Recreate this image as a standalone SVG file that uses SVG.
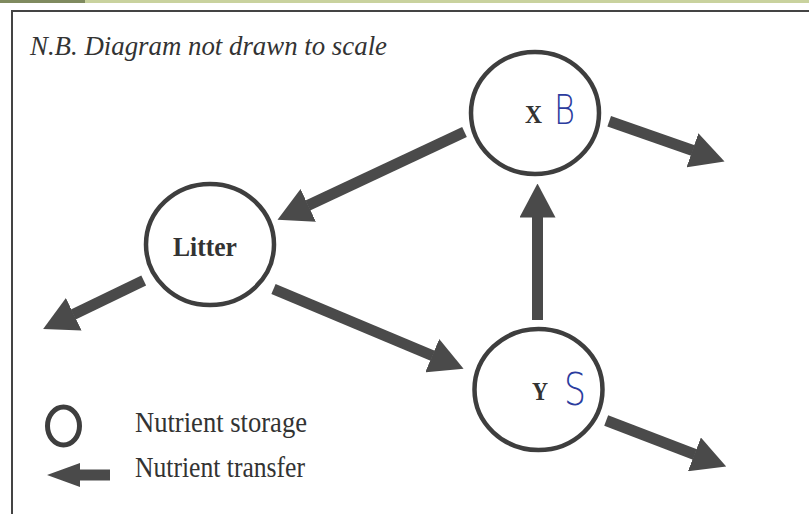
<svg xmlns="http://www.w3.org/2000/svg" width="809" height="514" viewBox="0 0 809 514">
  <style>
    .node { fill: none; stroke: #3e3e3e; stroke-width: 4.5; }
    .conn { fill: none; stroke: #4a4a4a; stroke-width: 11; marker-end: url(#head); }
    .lbl { font-family: "Liberation Serif", "Times New Roman", serif; fill: #333; font-weight: bold; }
    .legend { font-family: "Liberation Serif", "Times New Roman", serif; fill: #333; font-size: 29px; }
    .hand { font-family: "DejaVu Sans", "Liberation Sans", sans-serif; font-weight: 200; fill: #2b3c9e; }
  </style>
  <defs>
    <marker id="head" markerUnits="userSpaceOnUse" viewBox="0 0 34 36" markerWidth="34" markerHeight="36" refX="0.5" refY="18" orient="auto">
      <path d="M0,0 L34,18 L0,36 Z" fill="#4a4a4a"/>
    </marker>
  </defs>
  <rect x="0" y="0" width="809" height="514" fill="#ffffff"/>
  <rect x="0" y="0" width="809" height="3" fill="#c9d29e"/>
  <rect x="0" y="0" width="85" height="3" fill="#7f8a5f"/>
  <rect id="frame" x="12" y="11" width="830" height="540" fill="none" stroke="#444" stroke-width="2"/>
  <text id="title" x="30" y="55" font-family="Liberation Serif, Times New Roman, serif" font-style="italic" font-size="28" fill="#333" textLength="357" lengthAdjust="spacingAndGlyphs">N.B. Diagram not drawn to scale</text>

  <g id="connectors">
    <path class="conn" d="M464.5,132 L307.8,205.6"/>
    <path class="conn" d="M537.5,320 L537.5,217"/>
    <path class="conn" d="M273.5,289 L432.7,355.8"/>
    <path class="conn" d="M143.7,280.5 L73.3,314.5"/>
    <path class="conn" d="M609.2,121.3 L692.9,150.5"/>
    <path class="conn" d="M606.2,420.5 L694.9,454.5"/>
  </g>

  <g id="node-x">
    <ellipse class="node" cx="535" cy="113" rx="64" ry="61"/>
    <text class="lbl" x="525" y="123" font-size="26" textLength="17" lengthAdjust="spacingAndGlyphs">X</text>
    <text class="hand" x="554" y="124" font-size="40" textLength="21" lengthAdjust="spacingAndGlyphs">B</text>
  </g>
  <g id="node-litter">
    <ellipse class="node" cx="210" cy="244.5" rx="64" ry="60.5"/>
    <text class="lbl" x="173" y="256" font-size="27" textLength="64" lengthAdjust="spacingAndGlyphs">Litter</text>
  </g>
  <g id="node-y">
    <ellipse class="node" cx="538.5" cy="389.5" rx="64" ry="60.5"/>
    <text class="lbl" x="532" y="400" font-size="25" textLength="16" lengthAdjust="spacingAndGlyphs">Y</text>
    <text class="hand" x="564" y="405" font-size="44" textLength="22" lengthAdjust="spacingAndGlyphs">S</text>
  </g>

  <g id="legend">
    <ellipse cx="63.5" cy="426" rx="16" ry="19" fill="none" stroke="#3e3e3e" stroke-width="5"/>
    <text class="legend" x="135" y="432" textLength="172" lengthAdjust="spacingAndGlyphs">Nutrient storage</text>
    <polygon points="47,475 80,463 80,469.5 110,469.5 110,480.5 80,480.5 80,487" fill="#4a4a4a"/>
    <text class="legend" x="135" y="477" textLength="170" lengthAdjust="spacingAndGlyphs">Nutrient transfer</text>
  </g>
</svg>
